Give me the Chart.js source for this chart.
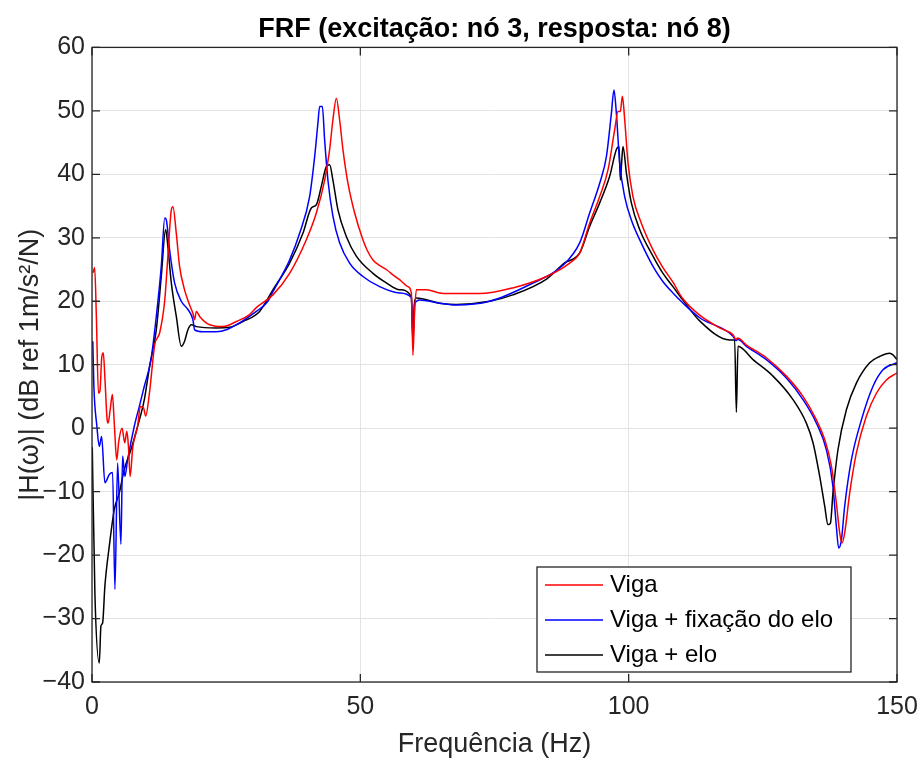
<!DOCTYPE html>
<html lang="pt">
<head>
  <meta charset="UTF-8" />
  <title>FRF nó 3 / nó 8</title>
  <script src="https://cdn.jsdelivr.net/npm/chart.js"></script>
  <style>
    html, body { margin: 0; padding: 0; background: #fff; }
    #frf { display: block; }
  </style>
</head>
<body>
  <canvas id="frf" width="917" height="762"></canvas>

  <script>
    // Frequências (Hz) e amplitudes (dB ref 1 m/s²/N) de cada configuração
    const vigaHz = [0.2, 0.5, 0.8, 1.2, 1.5, 1.8, 2.1, 2.4, 2.8, 3.0, 3.4, 3.8, 4.2, 4.6, 5.0, 5.6, 6.1, 6.5, 6.8, 7.1, 7.6, 8.5, 9.0, 9.6, 10.0, 10.7, 11.7, 12.6, 13.56, 14.14, 14.78, 15.08, 15.71, 16.32, 17.25, 18.19, 18.8, 19.12, 19.44, 20.06, 20.99, 21.92, 24.39, 26.89, 29.36, 30.62, 33.71, 36.82, 39.94, 41.8, 43.35, 44.28, 44.89, 45.53, 46.14, 46.76, 47.69, 48.94, 50.48, 51.3, 52.35, 53.5, 54.85, 56.0, 57.32, 58.87, 59.5, 59.8, 60.1, 60.44, 62.3, 64.78, 66.0, 72.2, 78.4, 84.7, 89.0, 90.87, 92.73, 94.6, 96.15, 97.39, 98.01, 98.45, 98.83, 99.26, 99.88, 100.8, 102.36, 104.53, 106.3, 108.25, 110.0, 113.23, 116.95, 119.44, 120.0, 120.3, 121.94, 125.66, 129.39, 132.48, 134.98, 136.53, 137.78, 138.7, 139.32, 139.75, 140.25, 141.19, 142.43, 144.3, 146.16, 148.02, 150.0];
    const vigaDb = [24.5, 25.3, 18.0, 5.5, 6.0, 11.0, 11.9, 8.0, 1.5, 0.8, 3.0, 5.3, 0.0, -5.0, -2.0, 0.0, -2.3, -0.5, -3.0, -7.6, -3.0, 0.3, 3.4, 3.2, 1.9, 5.5, 13.2, 15.0, 20.2, 27.1, 34.4, 34.9, 30.7, 25.5, 21.8, 19.4, 18.1, 17.1, 18.4, 17.6, 16.8, 16.3, 16.0, 16.8, 17.9, 19.0, 21.0, 24.4, 29.7, 33.9, 39.1, 43.9, 48.6, 52.0, 48.6, 43.9, 38.6, 33.9, 29.7, 28.0, 26.5, 25.7, 25.0, 24.2, 23.4, 22.3, 21.3, 11.5, 18.0, 21.8, 21.8, 21.3, 21.2, 21.2, 22.1, 23.9, 26.0, 27.6, 32.3, 36.5, 40.7, 47.0, 49.9, 49.9, 52.3, 48.6, 41.8, 36.5, 32.3, 28.1, 25.4, 23.0, 20.5, 17.8, 15.8, 14.7, 14.0, 14.2, 13.1, 11.1, 8.2, 5.0, 1.3, -1.8, -6.0, -11.8, -16.5, -18.1, -16.5, -10.2, -3.9, 1.9, 5.5, 7.6, 8.7];

    const fixHz = [0.15, 0.35, 0.91, 1.36, 1.79, 2.4, 3.22, 3.84, 4.27, 4.77, 5.39, 5.7, 6.13, 6.63, 7.88, 8.81, 9.75, 10.98, 11.98, 12.91, 13.56, 13.85, 14.46, 15.39, 16.64, 17.87, 18.8, 19.12, 20.67, 23.16, 25.03, 27.5, 30.62, 32.78, 33.71, 36.82, 38.69, 40.55, 41.49, 42.1, 42.42, 42.92, 43.35, 43.96, 44.89, 46.14, 48.0, 50.48, 53.6, 57.32, 59.5, 59.8, 60.1, 61.05, 64.78, 67.9, 74.1, 81.5, 87.8, 90.87, 92.73, 94.6, 95.85, 96.78, 97.26, 97.71, 98.32, 99.26, 100.5, 102.05, 104.53, 106.3, 108.25, 110.0, 113.23, 119.44, 120.0, 120.3, 121.94, 125.66, 129.39, 132.48, 134.98, 136.84, 138.07, 138.7, 139.13, 139.64, 140.25, 141.5, 143.37, 145.53, 147.39, 150.0];
    const fixDb = [13.7, 6.6, 0.3, -2.9, -1.3, -8.6, -7.3, -7.0, -25.4, -5.5, -18.3, -4.4, -7.6, -5.0, 0.3, 3.4, 6.6, 10.8, 17.6, 25.5, 33.1, 32.8, 28.1, 22.9, 20.0, 18.7, 17.1, 15.5, 15.2, 15.2, 15.5, 16.6, 18.4, 20.0, 21.5, 26.5, 30.7, 36.5, 42.8, 48.1, 50.7, 50.7, 45.4, 39.1, 33.4, 29.2, 26.0, 23.9, 22.3, 21.3, 20.6, 14.5, 19.5, 20.2, 19.7, 19.4, 20.0, 22.6, 25.7, 29.2, 33.9, 38.6, 42.8, 49.6, 53.3, 49.6, 41.8, 36.5, 32.8, 29.7, 25.5, 23.2, 21.3, 19.8, 17.4, 14.5, 13.8, 14.0, 12.9, 10.8, 7.9, 4.5, 0.8, -3.4, -9.2, -15.5, -18.9, -17.6, -12.3, -5.0, 1.3, 6.6, 9.2, 10.3];

    const eloHz = [0.05, 0.54, 1.36, 1.66, 1.98, 2.4, 3.22, 4.16, 5.09, 6.02, 7.25, 8.5, 9.75, 10.73, 11.98, 12.91, 13.72, 14.14, 14.78, 15.71, 16.64, 17.25, 17.87, 18.51, 19.44, 23.16, 25.64, 28.12, 31.23, 33.71, 36.82, 39.3, 40.87, 41.8, 42.73, 43.66, 44.28, 44.89, 45.83, 47.39, 49.25, 52.35, 54.85, 57.32, 59.5, 59.8, 60.1, 60.44, 64.78, 67.9, 74.1, 78.4, 84.7, 88.0, 90.87, 92.73, 94.6, 96.46, 97.71, 98.2, 98.45, 98.7, 98.94, 99.58, 100.5, 102.05, 104.53, 106.3, 108.25, 110.0, 113.23, 118.82, 119.75, 120.07, 120.37, 123.17, 126.89, 130.62, 133.11, 134.35, 135.6, 136.53, 137.14, 137.59, 138.07, 139.0, 140.57, 142.43, 144.91, 146.78, 148.64, 149.3, 150.0];
    const eloDb = [-3.0, -26.0, -37.0, -31.2, -30.7, -24.9, -18.6, -12.8, -10.2, -6.5, -3.4, 0.3, 4.5, 9.7, 15.5, 23.9, 31.3, 28.6, 22.9, 17.6, 12.9, 13.7, 15.5, 16.3, 16.0, 15.8, 15.9, 16.8, 18.4, 21.8, 26.0, 30.7, 34.7, 35.2, 38.1, 41.2, 41.5, 39.1, 34.4, 30.2, 27.1, 24.4, 22.9, 21.8, 20.8, 13.5, 19.8, 20.5, 19.7, 19.5, 20.0, 21.0, 23.5, 26.0, 27.6, 31.8, 35.5, 39.7, 43.9, 44.4, 39.1, 42.0, 44.4, 40.2, 35.5, 31.3, 27.1, 24.5, 22.3, 20.3, 16.9, 13.9, 13.9, 2.5, 12.9, 10.8, 8.2, 4.5, 0.8, -2.3, -7.6, -12.3, -15.2, -15.0, -10.2, -3.4, 2.9, 7.1, 10.3, 11.3, 11.8, 11.5, 10.8];

    const legendLabels = ["Viga", "Viga + fixação do elo", "Viga + elo"];
    const lineColors = ["#ff0000", "#0000ff", "#000000"];

    const xTicks = [0, 50, 100, 150];
    const yTicks = [-40, -30, -20, -10, 0, 10, 20, 30, 40, 50, 60];

    const axisInk = "#262626";
    const fontFamily = "'Liberation Sans', Arial, Helvetica, sans-serif";

    function pares(hz, db) {
      return hz.map((f, i) => ({ x: f, y: db[i] }));
    }

    // rótulo com sinal de menos tipográfico
    function rotulo(v) {
      return v < 0 ? "\u2212" + Math.abs(v) : String(v);
    }

    // caixa dos eixos com marcas de escala para dentro (estilo MATLAB)
    const caixaEixos = {
      id: "caixaEixos",
      afterDatasetsDraw(chart) {
        const { ctx, chartArea: a, scales } = chart;
        const tick = 8;
        ctx.save();
        ctx.strokeStyle = axisInk;
        ctx.lineWidth = 1.3;
        ctx.beginPath();
        xTicks.forEach(v => {
          const px = scales.x.getPixelForValue(v);
          ctx.moveTo(px, a.bottom); ctx.lineTo(px, a.bottom - tick);
          ctx.moveTo(px, a.top); ctx.lineTo(px, a.top + tick);
        });
        yTicks.forEach(v => {
          const py = scales.y.getPixelForValue(v);
          ctx.moveTo(a.left, py); ctx.lineTo(a.left + tick, py);
          ctx.moveTo(a.right, py); ctx.lineTo(a.right - tick, py);
        });
        ctx.stroke();
        ctx.strokeRect(a.left, a.top, a.right - a.left, a.bottom - a.top);
        ctx.restore();
      }
    };

    // legenda no canto inferior direito da área do gráfico
    const legendaCaixa = {
      id: "legendaCaixa",
      afterDraw(chart) {
        const { ctx, chartArea: a } = chart;
        const w = 314, h = 105, row = 35;
        const x0 = a.right - 46 - w;
        const y0 = a.bottom - 10 - h;
        ctx.save();
        ctx.fillStyle = "#ffffff";
        ctx.fillRect(x0, y0, w, h);
        ctx.strokeStyle = axisInk;
        ctx.lineWidth = 1.3;
        ctx.strokeRect(x0, y0, w, h);
        ctx.font = "24px " + fontFamily;
        ctx.textBaseline = "middle";
        legendLabels.forEach((txt, i) => {
          const cy = y0 + 18 + i * row;
          ctx.strokeStyle = lineColors[i];
          ctx.lineWidth = 1.5;
          ctx.beginPath();
          ctx.moveTo(x0 + 8, cy);
          ctx.lineTo(x0 + 66, cy);
          ctx.stroke();
          ctx.fillStyle = "#000000";
          ctx.fillText(txt, x0 + 73, cy);
        });
        ctx.restore();
      }
    };

    const ds = (label, hz, db, color) => ({
      label: label,
      data: pares(hz, db),
      borderColor: color,
      backgroundColor: color,
      borderWidth: 1.5,
      pointRadius: 0,
      cubicInterpolationMode: "monotone",
      fill: false
    });

    new Chart(document.getElementById("frf").getContext("2d"), {
      type: "line",
      data: {
        datasets: [
          ds(legendLabels[0], vigaHz, vigaDb, lineColors[0]),
          ds(legendLabels[1], fixHz, fixDb, lineColors[1]),
          ds(legendLabels[2], eloHz, eloDb, lineColors[2])
        ]
      },
      options: {
        responsive: false,
        animation: false,
        devicePixelRatio: 1,
        layout: { padding: { left: 0, right: 20, top: 0, bottom: 0 } },
        plugins: {
          legend: { display: false },
          tooltip: { enabled: false },
          title: {
            display: true,
            fullSize: false,
            text: "FRF (excitação: nó 3, resposta: nó 8)",
            color: "#000000",
            font: { family: fontFamily, size: 27, weight: "bold" },
            padding: { top: 13, bottom: 2 }
          }
        },
        scales: {
          x: {
            type: "linear",
            min: 0,
            max: 150,
            afterFit(s) { s.height = 80; s.paddingLeft = 0; s.paddingRight = 0; },
            afterBuildTicks(s) { s.ticks = xTicks.map(v => ({ value: v })); },
            ticks: { color: axisInk, font: { family: fontFamily, size: 25 }, padding: 10, maxRotation: 0, callback: rotulo },
            grid: { color: "#e3e3e3", drawTicks: false },
            border: { display: false },
            title: {
              display: true,
              text: "Frequência (Hz)",
              color: axisInk,
              font: { family: fontFamily, size: 27 },
              padding: { top: 1, bottom: 1 }
            }
          },
          y: {
            type: "linear",
            min: -40,
            max: 60,
            afterFit(s) { s.width = 92; s.paddingTop = 0; s.paddingBottom = 0; },
            afterBuildTicks(s) { s.ticks = yTicks.map(v => ({ value: v })); },
            ticks: { color: axisInk, font: { family: fontFamily, size: 25 }, padding: 7, callback: rotulo },
            grid: { color: "#e3e3e3", drawTicks: false },
            border: { display: false },
            title: {
              display: true,
              text: "|H(\u03c9)| (dB ref 1m/s²/N)",
              color: axisInk,
              font: { family: fontFamily, size: 27 },
              padding: { top: 14, bottom: 0 }
            }
          }
        }
      },
      plugins: [caixaEixos, legendaCaixa]
    });
  </script>
</body>
</html>
